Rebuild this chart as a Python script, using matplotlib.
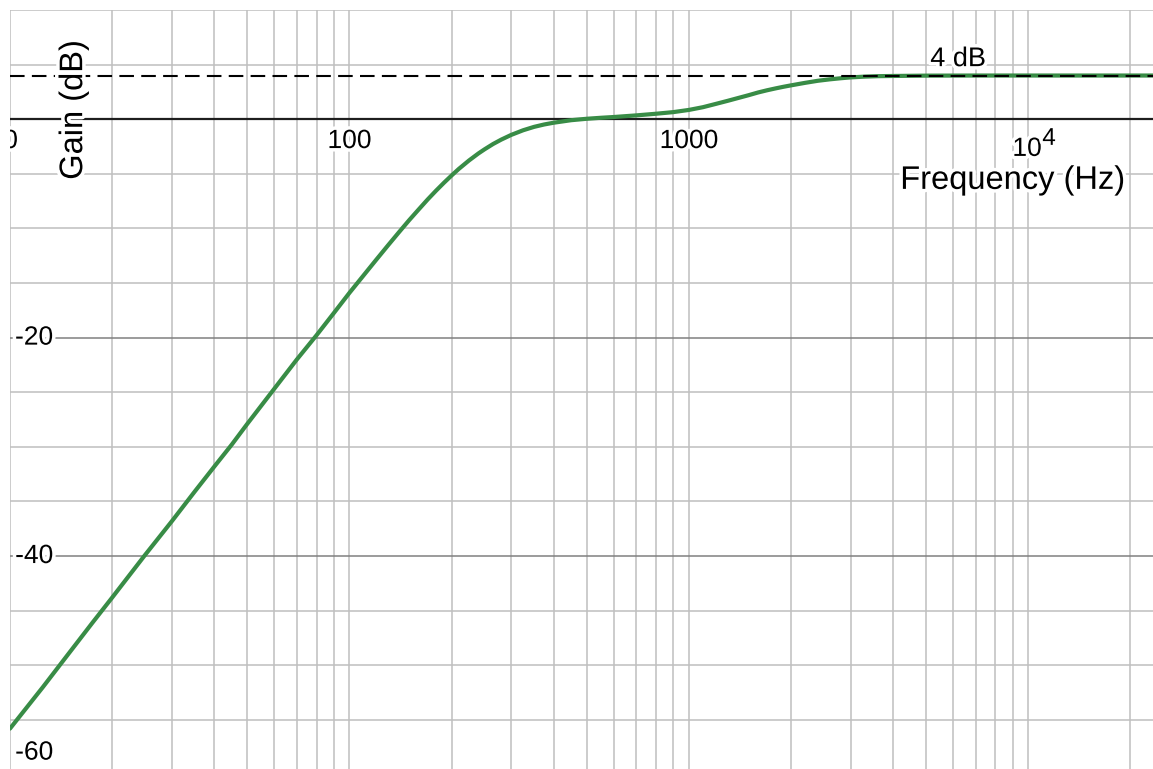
import matplotlib
matplotlib.use("Agg")
import matplotlib.pyplot as plt
import matplotlib.patheffects as pe
from matplotlib.ticker import LogLocator, MultipleLocator, NullFormatter

plt.rcParams['font.family'] = ['Liberation Sans', 'DejaVu Sans']

# gain curve (Hz, dB)
freq = [10, 12.5, 15, 17.5, 20, 25, 30, 35, 40, 45, 50, 60, 70, 80, 90,
        100, 110, 120, 130, 140, 150, 160, 170, 180, 190, 200, 210, 225, 240,
        250, 265, 280, 300, 325, 350, 375, 400, 450, 500, 550, 600, 700, 800,
        900, 1000, 1100, 1200, 1300, 1400, 1500, 1600, 1700, 1800, 1900, 2000,
        2200, 2400, 2600, 2800, 3000, 3300, 3600, 4000, 5000, 7000, 10000,
        15000, 25000]
gain = [-55.8, -52.0, -48.8, -46.1, -43.8, -39.9, -36.8, -34.1, -31.8, -29.8,
        -27.9, -24.7, -22.0, -19.78, -17.74,
        -15.9, -14.31, -12.86, -11.54, -10.34, -9.24, -8.26, -7.35, -6.54, -5.81,
        -5.15, -4.55, -3.78, -3.13, -2.76, -2.27, -1.87, -1.43, -1.01, -0.70,
        -0.48, -0.32, -0.09, 0.04, 0.13, 0.2, 0.35, 0.5,
        0.65, 0.85, 1.1, 1.4, 1.68, 1.95, 2.2, 2.45, 2.65, 2.82, 2.97, 3.1,
        3.33, 3.52, 3.65, 3.75, 3.83, 3.9, 3.94, 3.96, 3.99, 4.0, 4.0,
        4.0, 4.0]

ref_level = 4
xtick_pos = [10, 100, 1000]
xtick_labels = ['10', '100', '1000']
ytick_pos = [-20, -40]
ytick_labels = ['-20', '-40']

GREEN = '#388c46'
halo = [pe.withStroke(linewidth=5, foreground='white')]

fig = plt.figure(figsize=(11.53, 7.69), dpi=100)
ax = fig.add_axes([10/1153, 0, 1143/1153, 759/769])
ax.set_xscale('log')
ax.set_xlim(10, 23300)
ax.set_ylim(-59.5, 10)
for s in ax.spines.values():
    s.set_visible(False)

ax.xaxis.set_major_locator(LogLocator(base=10))
ax.xaxis.set_minor_locator(LogLocator(base=10, subs=range(2, 10)))
ax.xaxis.set_minor_formatter(NullFormatter())
ax.yaxis.set_major_locator(MultipleLocator(20))
ax.yaxis.set_minor_locator(MultipleLocator(5))
ax.tick_params(which='both', length=0, labelbottom=False, labelleft=False)
ax.xaxis.grid(True, which='both', color='#bfbfbf', lw=1.1)
ax.yaxis.grid(True, which='minor', color='#bfbfbf', lw=1.1)
ax.yaxis.grid(True, which='major', color='#808080', lw=1.1)
ax.set_axisbelow(True)

ax.axhline(0, color='#1e1e1e', lw=1.6, zorder=2)
ax.plot(freq, gain, color=GREEN, lw=3.0, zorder=3, solid_capstyle='round')
ax.axhline(ref_level, color='black', lw=1.5, ls=(0, (7, 3.5)), zorder=4)

# tick labels drawn by hand, like the original
for x, lab in zip(xtick_pos, xtick_labels):
    ax.text(x * (0.955 if x == 10 else 1.0), -2.0, lab, ha='center', va='center',
            fontsize=19, path_effects=halo, zorder=5, clip_on=True)
# 10^4 label, exponent nearly full size in the original
ax.text(9913, -2.72, '10', ha='center', va='center', fontsize=19,
        path_effects=halo, zorder=5)
ax.text(11510, -1.8, '4', ha='center', va='center', fontsize=17.5,
        path_effects=halo, zorder=5)
for y, lab in zip(ytick_pos, ytick_labels):
    ax.text(13.4, y, lab, ha='right', va='center', fontsize=19,
            path_effects=halo, zorder=5)
ax.text(13.4, -58.0, '-60', ha='right', va='center', fontsize=19,
        path_effects=halo, zorder=5)

ax.text(15.4, 0.85, 'Gain (dB)', rotation=90, ha='center', va='center',
        fontsize=23.5, path_effects=halo, zorder=5)
ax.text(19300, -5.6, 'Frequency (Hz)', ha='right', va='center',
        fontsize=23.5, path_effects=halo, zorder=5)
ax.text(6210, 5.5, '4 dB', ha='center', va='center', fontsize=19.5,
        path_effects=halo, zorder=5)

fig.savefig('out.png', dpi=100)
